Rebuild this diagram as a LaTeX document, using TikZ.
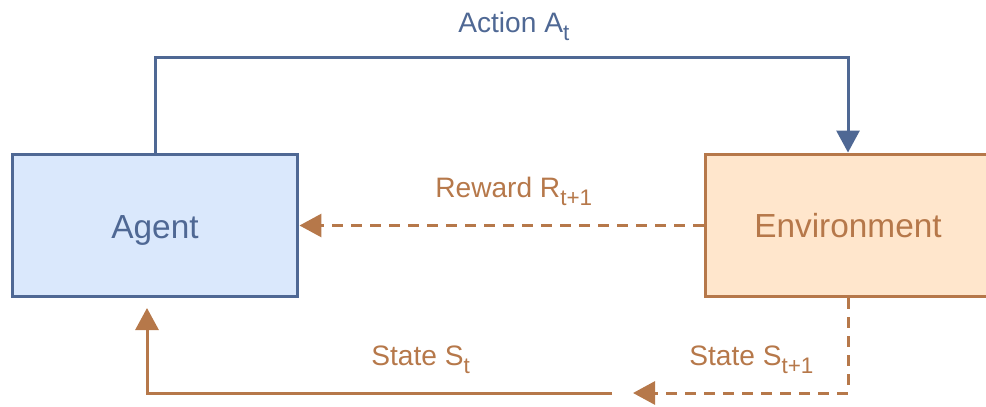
\documentclass[tikz,border=0pt]{standalone}
\usepackage{fontspec}
\setmainfont{Liberation Sans}
\usetikzlibrary{arrows.meta}

\definecolor{agentline}{HTML}{4F6894}
\definecolor{agentfill}{HTML}{DAE8FC}
\definecolor{envline}{HTML}{B6784A}
\definecolor{envfill}{HTML}{FFE6CC}

% lowered small index, as in A_t
\newcommand{\idx}[1]{\raisebox{-0.3em}{\fontsize{12.8}{14}\selectfont #1}}

\begin{document}
\begin{tikzpicture}[x=0.02cm, y=-0.02cm,
        box/.style={draw, line width=0.06cm, minimum width=5.72cm, minimum height=2.86cm,
            inner sep=0pt, text depth=0pt, font=\fontsize{19}{21}\selectfont},
        flow/.style={line width=0.06cm, -{Triangle[length=0.44cm,width=0.46cm]}},
        dashflow/.style={flow, dash pattern=on 0.22cm off 0.16cm},
        lbl/.style={anchor=base west, inner sep=0pt, font=\fontsize{16}{18}\selectfont}]
        \useasboundingbox (0,0) rectangle (986,406);

        % the two boxes
        \node[box, draw=agentline, fill=agentfill, text=agentline] (agent) at (155,225.5) {\raisebox{-2pt}{Agent}};
        \node[box, draw=envline, fill=envfill, text=envline] (env) at (848,225.5) {Environment};

        % action goes over the top
        \draw[flow, agentline] (agent.north) -- ++(0,-95) -| (env.north);
        \node[lbl, text=agentline] (actlbl) at (458,32) {Action A\idx{t}};

        % reward comes straight back
        \draw[dashflow, envline] (env.west) -- (agent.east);
        \node[lbl, text=envline] (rewlbl) at (435,197) {Reward R\idx{t+1}};

        % next state along the bottom
        \coordinate (nextend) at (633,393);
        \draw[dashflow, envline] (env.south) |- (nextend);
        \node[lbl, text=envline] (nextlbl) at (689,365) {State S\idx{t+1}};

        % current state back up to the agent
        \coordinate (curstart) at (612,393);
        \coordinate (curend) at (147,308);
        \draw[flow, envline] (curstart) -| (curend);
        \node[lbl, text=envline] (curlbl) at (371,365) {State S\idx{t}};
    \end{tikzpicture}
\end{document}
